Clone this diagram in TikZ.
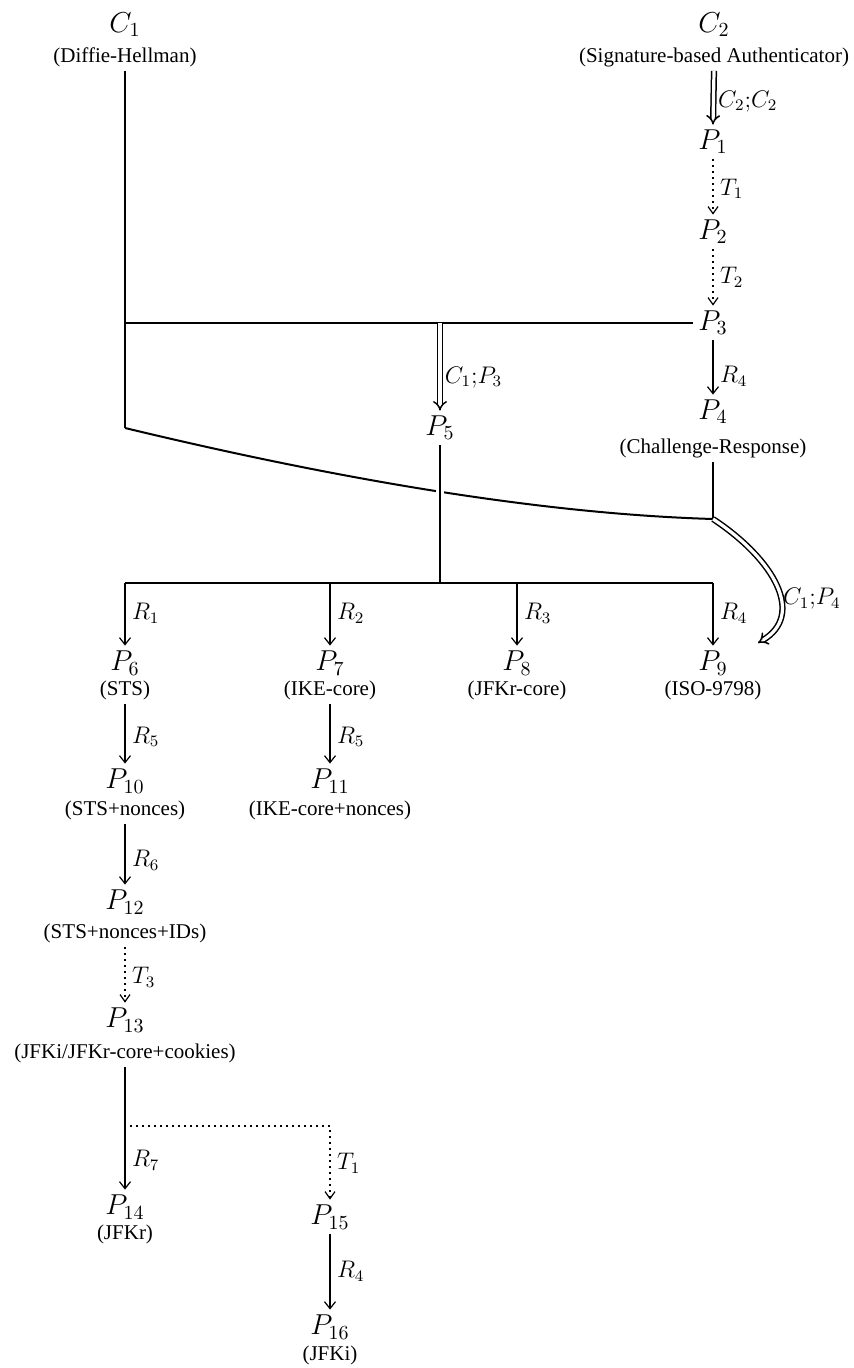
\documentclass[tikz,border=0pt]{standalone}
\usepackage[no-math]{fontspec}
\setmainfont{Liberation Serif}
\usetikzlibrary{arrows.meta}
\begin{document}
\begin{tikzpicture}[x=0.5pt,y=-0.5pt,
  pn/.style={font=\fontsize{14.4}{17}\selectfont, inner sep=2.5pt},
  captxt/.style={font=\fontsize{10.5}{12}\selectfont, inner sep=2pt},
  ln/.style={line width=1pt},
  arr/.style={line width=1pt,-{Straight Barb[length=3.5pt,width=5.5pt,line width=0.6pt]}},
  darr/.style={line width=0.75pt, double, double distance=1.6pt, -{Implies}},
  tarr/.style={line width=1pt, dotted, -{Straight Barb[length=3.5pt,width=5pt,line width=0.6pt]}},
  elab/.style={right, inner sep=3pt, font=\fontsize{11.5}{13}\selectfont},
]
\useasboundingbox (0,0) rectangle (854,1368);

% nodes
\node[pn] (C1) at (125,25) {$C_1$};
\node[captxt] (cDH) at (125,57) {(Diffie-Hellman)};
\node[pn] (C2) at (714,25) {$C_2$};
\node[captxt] (cSig) at (714,57) {(Signature-based Authenticator)};
\node[pn] (P1) at (713,142) {$P_1$};
\node[pn] (P2) at (713,232) {$P_2$};
\node[pn] (P3) at (713,323) {$P_3$};
\node[pn] (P4) at (713,412) {$P_4$};
\node[captxt] (cCR) at (713,448) {(Challenge-Response)};
\node[pn] (P5) at (440,428) {$P_5$};
\node[pn] (P6) at (125,663) {$P_6$};
\node[captxt] (cSTS) at (125,690) {(STS)};
\node[pn] (P7) at (330,663) {$P_7$};
\node[captxt] (cIKE) at (330,690) {(IKE-core)};
\node[pn] (P8) at (517,663) {$P_8$};
\node[captxt] (cJFKrc) at (517,690) {(JFKr-core)};
\node[pn] (P9) at (713,663) {$P_9$};
\node[captxt] (cISO) at (713,690) {(ISO-9798)};
\node[pn] (P10) at (125,781) {$P_{10}$};
\node[captxt] (c10) at (125,810) {(STS+nonces)};
\node[pn] (P11) at (330,781) {$P_{11}$};
\node[captxt] (c11) at (330,810) {(IKE-core+nonces)};
\node[pn] (P12) at (125,902) {$P_{12}$};
\node[captxt] (c12) at (125,933) {(STS+nonces+IDs)};
\node[pn] (P13) at (125,1020) {$P_{13}$};
\node[captxt] (c13) at (125,1053) {(JFKi/JFKr-core+cookies)};
\node[pn] (P14) at (125,1207) {$P_{14}$};
\node[captxt] (c14) at (125,1234) {(JFKr)};
\node[pn] (P15) at (330,1217) {$P_{15}$};
\node[pn] (P16) at (330,1327) {$P_{16}$};
\node[captxt] (c16) at (330,1355) {(JFKi)};

% coordinates
\coordinate (c1c) at (125,428);
\coordinate (j1) at (125,323);
\coordinate (j2) at (440,323);
\coordinate (k) at (713,519);
\coordinate (p9in) at (758,643);
\coordinate (b5) at (440,583);
\coordinate (b6) at (125,583);
\coordinate (b7) at (330,583);
\coordinate (b8) at (517,583);
\coordinate (b9) at (713,583);
\coordinate (j3) at (130,1126);

% connectors
\draw[ln] (cDH.south) -- (c1c);
\draw[darr] (cSig.south) -- node[elab, pos=0.57, inner sep=2pt] {$C_2{;}C_2$} (P1.north);
\draw[tarr] (P1) -- node[elab, pos=0.53] {$T_1$} (P2);
\draw[tarr] (P2) -- node[elab, pos=0.5] {$T_2$} (P3);
\draw[ln] (j1) -- (P3.west);
\draw[darr] (j2) -- node[elab, pos=0.62, inner sep=2pt] {$C_1{;}P_3$} (P5.north);
\draw[arr] (P3) -- node[elab, pos=0.66] {$R_4$} (P4);
\draw[ln] (cCR.south) -- (k);
\draw[ln] (c1c) .. controls (357.7,484) and (553.7,514.3) .. (k);
\draw[darr] (k) .. controls (775,560) and (805,615) .. node[right, pos=0.6, inner sep=1pt, font=\fontsize{11.5}{13}\selectfont] {$C_1{;}P_4$} (p9in);
\draw[ln, preaction={draw, white, line width=4pt}] (P5.south) -- (b5);
\draw[ln] (b6) -- (b9);
\draw[arr] (b6) -- node[elab, pos=0.48] {$R_1$} (P6.north);
\draw[arr] (b7) -- node[elab, pos=0.48] {$R_2$} (P7.north);
\draw[arr] (b8) -- node[elab, pos=0.48] {$R_3$} (P8.north);
\draw[arr] (b9) -- node[elab, pos=0.48] {$R_4$} (P9.north);
\draw[arr] (cSTS.south) -- node[elab, pos=0.55] {$R_5$} (P10.north);
\draw[arr] (cIKE.south) -- node[elab, pos=0.55] {$R_5$} (P11.north);
\draw[arr] (c10.south) -- node[elab, pos=0.6] {$R_6$} (P12.north);
\draw[tarr] (c12.south) -- node[elab, pos=0.55] {$T_3$} (P13.north);
\draw[arr] (c13.south) -- node[elab, pos=0.76] {$R_7$} (P14.north);
\draw[tarr] (j3) -| node[elab, pos=0.755] {$T_1$} (P15.north);
\draw[arr] (P15) -- node[elab, pos=0.49] {$R_4$} (P16);
\end{tikzpicture}
\end{document}
